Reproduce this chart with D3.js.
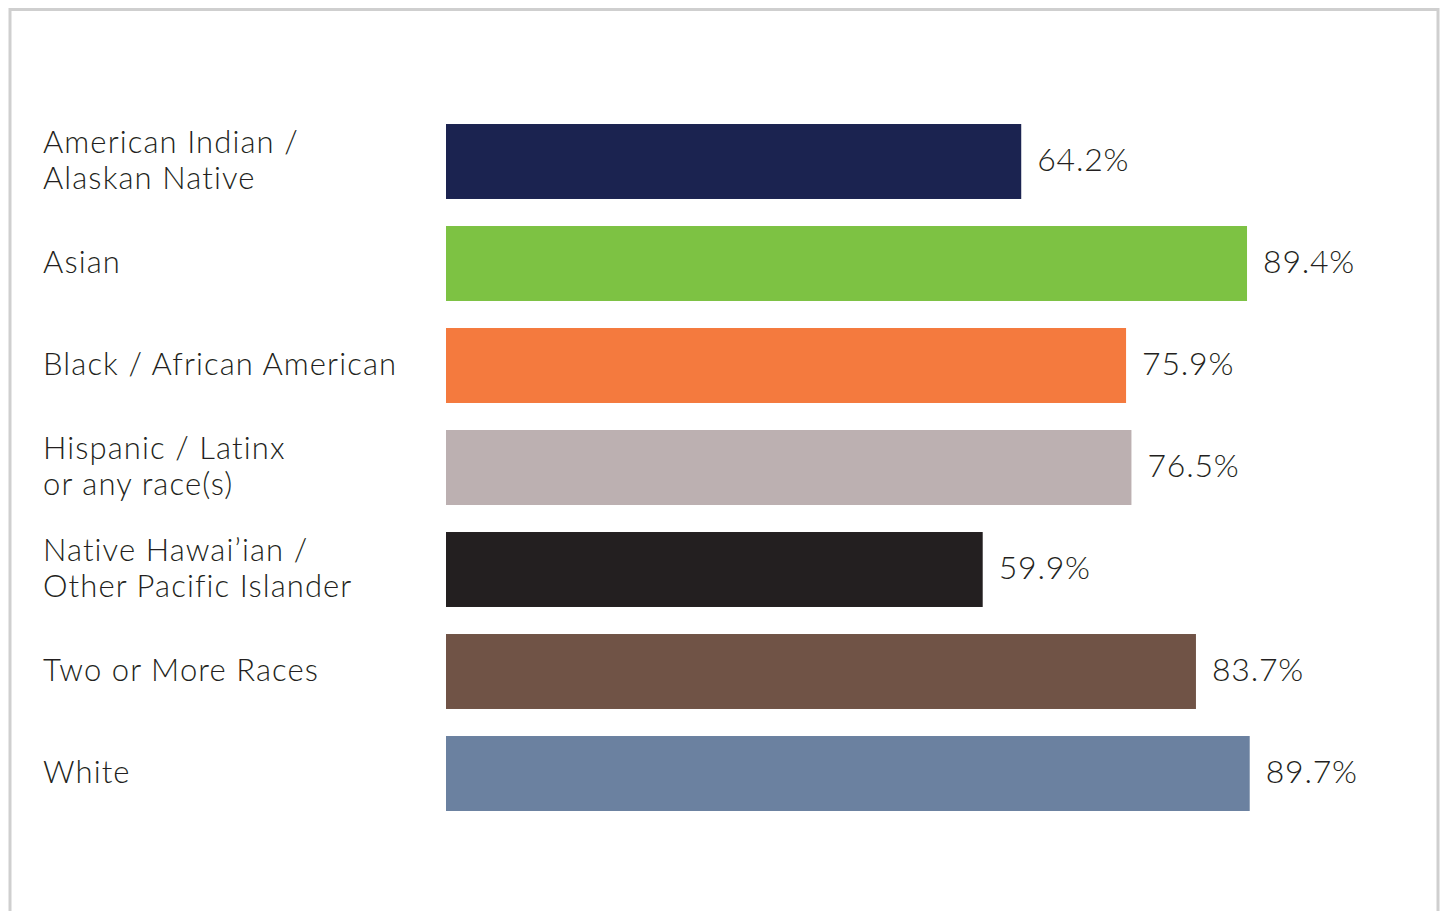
<!DOCTYPE html>
<html>
<head>
<meta charset="utf-8">
<script src="https://cdn.jsdelivr.net/npm/d3@7"></script>
<style>
  body { margin: 0; background: #fff; }
  svg text { font-family: Lato, "Open Sans", sans-serif; fill: #231f20; }
</style>
</head>
<body>
<div id="chart"></div>
<script>
// DATA
const categories = [
  "American Indian /\nAlaskan Native",
  "Asian",
  "Black / African American",
  "Hispanic / Latinx\nor any race(s)",
  "Native Hawai\u2019ian /\nOther Pacific Islander",
  "Two or More Races",
  "White"
];
const values = [64.2, 89.4, 75.9, 76.5, 59.9, 83.7, 89.7];
const barColors = ["#1b2350", "#7dc243", "#f47a3e", "#bcb0b1", "#231f20", "#705346", "#6b81a0"];

const width = 1444;
const height = 911;

const svg = d3.select("#chart")
  .append("svg")
  .attr("width", width)
  .attr("height", height);

// frame
svg.append("rect")
  .attr("x", 10)
  .attr("y", 9.5)
  .attr("width", 1428)
  .attr("height", 940)
  .attr("fill", "none")
  .attr("stroke", "#cfcfcf")
  .attr("stroke-width", 3);

const x = d3.scaleLinear().domain([0, 100]).range([446, 1342]);
const y = d3.scaleBand()
  .domain(categories)
  .range([110.5, 824.5])
  .paddingInner(0.265)
  .paddingOuter(0.1325);
const color = d3.scaleOrdinal().domain(categories).range(barColors);

const rows = svg.append("g")
  .selectAll("g")
  .data(categories)
  .join("g");

rows.append("rect")
  .attr("x", x(0))
  .attr("y", d => y(d))
  .attr("width", (d, i) => x(values[i]) - x(0))
  .attr("height", y.bandwidth())
  .attr("fill", d => color(d));

rows.append("text")
  .attr("x", (d, i) => x(values[i]) + 16)
  .attr("y", d => y(d) + y.bandwidth() / 2)
  .attr("dy", "0.3em")
  .style("font-size", "32px")
  .style("letter-spacing", "0.8px")
  .style("font-weight", 300)
  .text((d, i) => values[i].toFixed(1) + "%");

// category labels, one text per line
rows.each(function (d) {
  const lines = d.split("\n");
  const cy = y(d) + y.bandwidth() / 2;
  const lh = 36;
  lines.forEach((ln, k) => {
    d3.select(this).append("text")
      .attr("x", 43)
      .attr("y", cy + (k - (lines.length - 1) / 2) * lh)
      .attr("dy", "0.3em")
      .style("font-size", "31px")
      .style("letter-spacing", "1.1px")
      .style("font-weight", 300)
      .text(ln);
  });
});
</script>
</body>
</html>
